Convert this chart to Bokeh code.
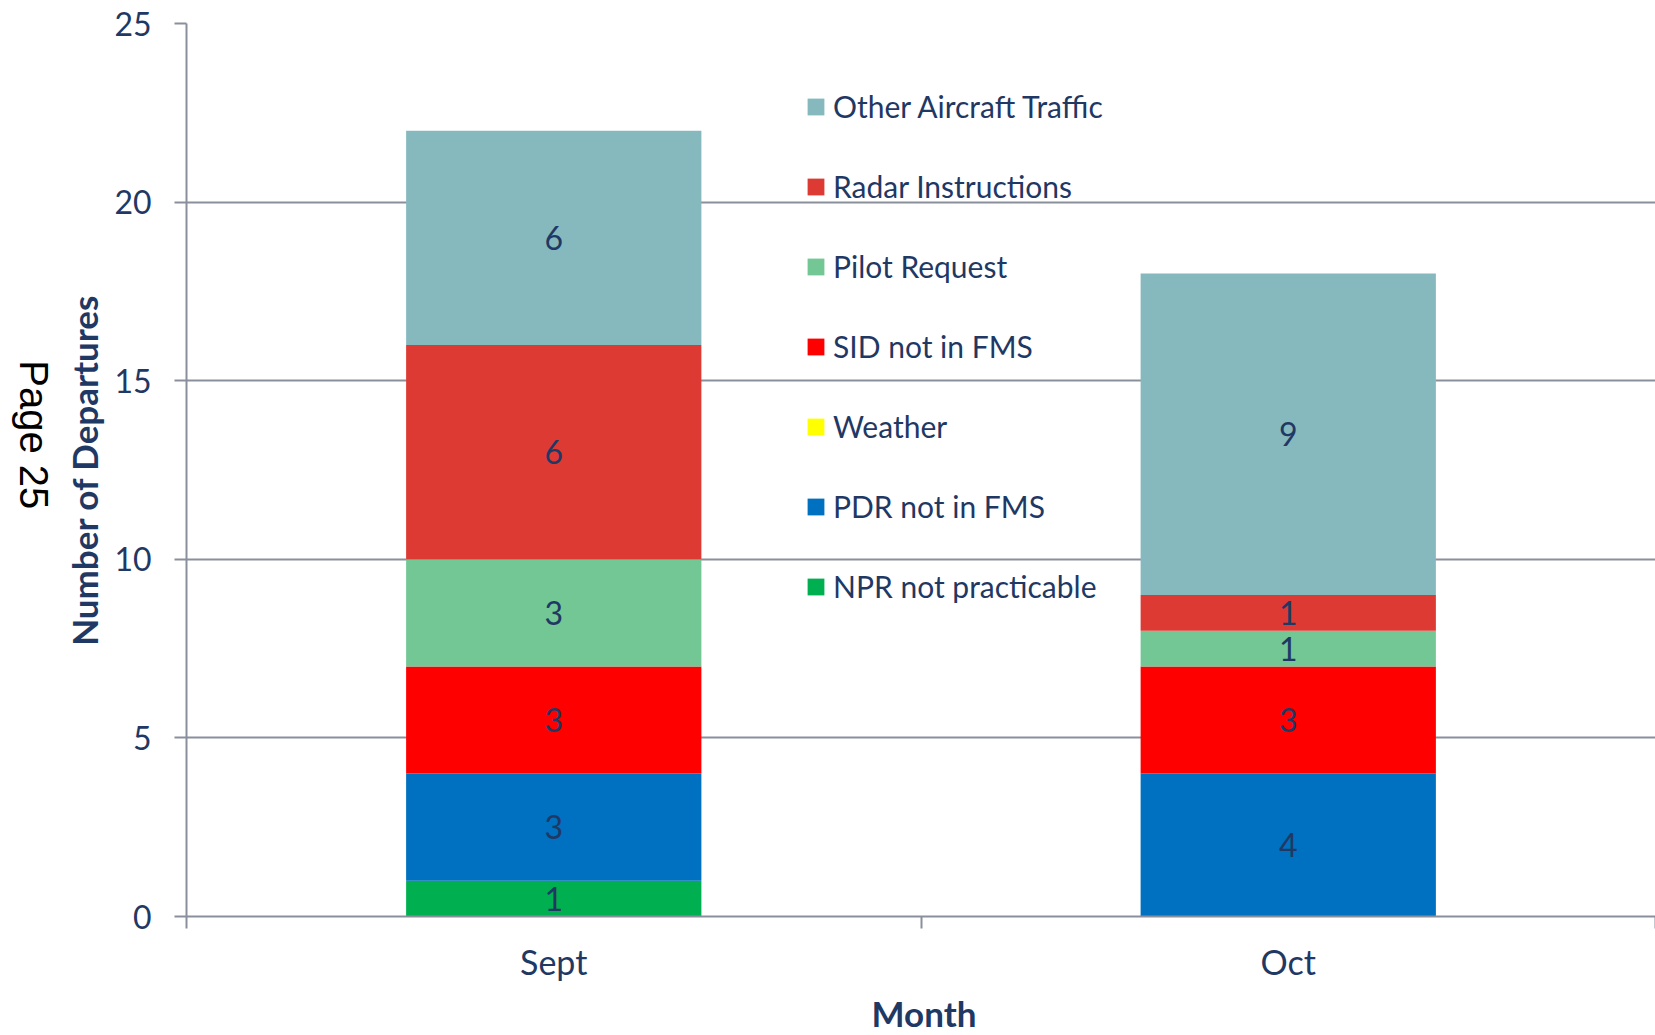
import numpy as np
from bokeh.plotting import figure
from bokeh.layouts import row, column
from bokeh.models import (ColumnDataSource, Legend, LegendItem, FactorRange,
                          Range1d, SingleIntervalTicker, FixedTicker, LinearAxis,
                          CategoricalAxis)
from bokeh.core.properties import value
from bokeh.embed import file_html
from bokeh.resources import INLINE

# ---- data ----
months = ["Sept", "Oct"]
causes = ["NPR not practicable", "PDR not in FMS", "Weather", "SID not in FMS",
          "Pilot Request", "Radar Instructions", "Other Aircraft Traffic"]
npr_not_practicable = [1, 0]
pdr_not_in_fms = [3, 4]
weather = [0, 0]
sid_not_in_fms = [3, 3]
pilot_request = [3, 1]
radar_instructions = [6, 1]
other_aircraft_traffic = [6, 9]
y_ticks_interval = 5
page_note = "Page 25"
x_title = "Month"
y_title = "Number of Departures"

colors = ["#00B050", "#0070C0", "#FFFF00", "#FF0000", "#72C795", "#DE3A34", "#86B9BE"]
keys = ["npr", "pdr", "weather", "sid", "pilot", "radar", "other"]
series = [npr_not_practicable, pdr_not_in_fms, weather, sid_not_in_fms,
          pilot_request, radar_instructions, other_aircraft_traffic]

TEXT = "#1F3864"
GRID = "#8A8F9C"
FONT = "Lato"

W, H = 1655, 1035
SIDE_W = 58
BOTTOM_H = 45
MAIN_H = H - BOTTOM_H
FRAME_LEFT = 186
FRAME_TOP = 23
FRAME_BOTTOM = 916

# ---- left strip with the rotated page note ----
side = figure(width=SIDE_W, height=MAIN_H, x_range=Range1d(0, SIDE_W),
              y_range=Range1d(0, MAIN_H), x_axis_type=None, y_axis_type=None,
              output_backend="svg", toolbar_location=None, min_border=0)
side.outline_line_color = None
side.grid.visible = False
side.text(x=[33], y=[MAIN_H - 456], text=[page_note], angle=-np.pi / 2,
          text_font=value("Liberation Sans"), text_font_size="40px", text_color="black",
          text_align="center", text_baseline="middle")

# ---- main chart ----
source = ColumnDataSource(dict(month=months, **{k: v for k, v in zip(keys, series)}))

p = figure(x_range=FactorRange(factors=months), y_range=Range1d(0, 25),
           width=W - SIDE_W, height=MAIN_H, output_backend="svg", toolbar_location=None,
           x_axis_location=None,
           min_border_left=FRAME_LEFT - SIDE_W, min_border_right=0,
           min_border_top=FRAME_TOP, min_border_bottom=MAIN_H - FRAME_BOTTOM)

renderers = p.vbar_stack(keys, x="month", width=0.402, color=colors, source=source,
                         line_color=None)

# value labels (only non-zero segments)
lx, ly, lt = [], [], []
bottoms = [0] * len(months)
for vals in series:
    for i, m in enumerate(months):
        if vals[i] > 0:
            lx.append(m)
            ly.append(bottoms[i] + vals[i] / 2)
            lt.append(str(vals[i]))
        bottoms[i] += vals[i]
lsrc = ColumnDataSource(dict(x=lx, y=ly, t=lt))
p.text(x="x", y="y", text="t", source=lsrc, text_font=value(FONT), text_font_size="32px",
       text_color=TEXT, text_align="center", text_baseline="middle")

p.outline_line_color = None
p.xgrid.grid_line_color = None
p.ygrid.grid_line_color = GRID
p.ygrid.grid_line_width = 2

# y axis
p.yaxis.ticker = SingleIntervalTicker(interval=y_ticks_interval)
ya = p.yaxis[0]
ya.axis_line_color = GRID
ya.axis_line_width = 2
ya.minor_tick_line_color = None
ya.major_tick_line_color = GRID
ya.major_tick_line_width = 2
ya.major_tick_out = 12
ya.major_tick_in = 0
ya.major_label_text_font = FONT
ya.major_label_text_font_size = "32px"
ya.major_label_text_color = TEXT
ya.major_label_standoff = 23
ya.axis_label = y_title
ya.axis_label_text_font = FONT
ya.axis_label_text_font_style = "bold"
ya.axis_label_text_font_size = "35px"
ya.axis_label_text_color = TEXT
ya.axis_label_standoff = 6

# x axis: boundary ticks between categories (synthetic coords 0..n) + category labels
tick_axis = LinearAxis(ticker=FixedTicker(ticks=list(range(len(months) + 1))),
                       axis_line_color=GRID, axis_line_width=2,
                       major_tick_line_color=GRID, major_tick_line_width=2,
                       major_tick_out=12, major_tick_in=0, minor_tick_line_color=None,
                       major_label_text_font_size="1px", major_label_text_color=None,
                       major_label_standoff=0)
p.add_layout(tick_axis, "below")

cat_axis = CategoricalAxis(axis_line_color=None, major_tick_line_color=None,
                           major_tick_out=0, major_tick_in=0, minor_tick_line_color=None,
                           major_label_text_font=FONT, major_label_text_font_size="34px",
                           major_label_text_color=TEXT, major_label_standoff=12)
p.add_layout(cat_axis, "below")

# legend (top to bottom: Other ... NPR)
items = [LegendItem(label=c, renderers=[r]) for c, r in zip(causes, renderers)][::-1]
legend = Legend(items=items, location=(619, 310), orientation="vertical",
                glyph_width=21, glyph_height=21, label_standoff=7,
                label_text_font=FONT, label_text_font_size="30px", label_text_color=TEXT,
                label_height=40, spacing=40, padding=0, margin=0,
                border_line_color=None, background_fill_alpha=0)
p.add_layout(legend)

# ---- bottom strip with the x-axis title ----
bottom = figure(width=W, height=BOTTOM_H, x_range=Range1d(0, W), y_range=Range1d(0, BOTTOM_H),
                x_axis_type=None, y_axis_type=None, output_backend="svg",
                toolbar_location=None, min_border=0)
bottom.outline_line_color = None
bottom.grid.visible = False
bottom.text(x=[(FRAME_LEFT + W) / 2 + 3], y=[BOTTOM_H - (1012 - MAIN_H)], text=[x_title],
            text_font=value(FONT), text_font_style="bold", text_font_size="35px",
            text_color=TEXT, text_align="center", text_baseline="middle")

layout = column(row(side, p), bottom)
open("out.html", "w").write(file_html(layout, INLINE))
